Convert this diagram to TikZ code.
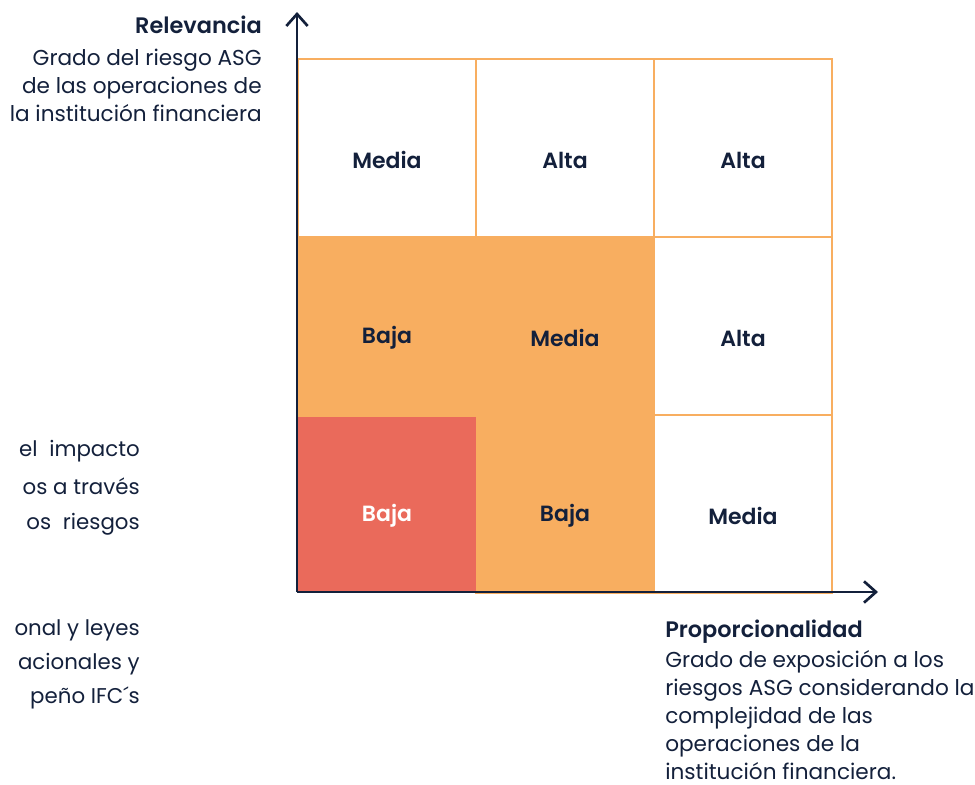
\documentclass[tikz,border=0pt]{standalone}
\usepackage{fontspec}
\setmainfont{Poppins}
\newfontfamily\semib{Poppins SemiBold}
\usetikzlibrary{arrows.meta}
\definecolor{navy}{HTML}{13203B}
\definecolor{orng}{HTML}{F8AE60}
\definecolor{redc}{HTML}{EA6A5B}
\begin{document}
\begin{tikzpicture}[x=0.75pt,y=-0.75pt,
  cell/.style={draw=orng,line width=1.5pt,minimum width=133.5pt,minimum height=133.5pt,inner sep=0pt,anchor=north west},
  wcell/.style={cell,fill=white},
  ocell/.style={cell,fill=orng},
  rcell/.style={cell,fill=redc,draw=none},
  clbl/.style={text=navy,inner sep=0pt,font=\fontsize{16.5}{20}\selectfont\semib},
  axis/.style={draw=navy,line width=2pt,-{Straight Barb[length=9pt,width=16pt,line width=2pt]}},
  lbl/.style={text=navy,inner sep=0pt,align=right,font=\fontsize{16.2}{21}\selectfont},
  side/.style={text=navy,inner sep=0pt,anchor=base east,font=\fontsize{16}{20}\selectfont}]
\useasboundingbox (0,0) rectangle (975,785);
% cells
\node[wcell] (c13) at (297,58) {};
\node[wcell] (c23) at (475,58) {};
\node[wcell] (c33) at (653,58) {};
\node[ocell] (c12) at (297,236) {};
\node[ocell] (c22) at (475,236) {};
\node[wcell] (c32) at (653,236) {};
\node[ocell] (c21) at (475,414) {};
\node[wcell] (c31) at (653,414) {};
\node[rcell] (c11) at (297,414) {};
\draw[orng,line width=1.5pt] (c12.south west) -- (c12.south east);
% cell labels
\node[clbl] (l13) at ([yshift=-9pt]c13.center) {Media};
\node[clbl] (l23) at ([yshift=-9pt]c23.center) {Alta};
\node[clbl] (l33) at ([yshift=-9pt]c33.center) {Alta};
\node[clbl] (l12) at ([yshift=-9pt]c12.center) {Baja};
\node[clbl] (l22) at ([yshift=-9pt]c22.center) {Media};
\node[clbl] (l32) at ([yshift=-9pt]c32.center) {Alta};
\node[clbl,text=white] (l11) at ([yshift=-9pt]c11.center) {Baja};
\node[clbl] (l21) at ([yshift=-9pt]c21.center) {Baja};
\node[clbl] (l31) at ([yshift=-9pt]c31.center) {Media};
% axes
\coordinate (o) at (297,592);
\coordinate (ytip) at (297,12);
\coordinate (xtip) at (878,592);
\draw[axis] (o) -- (ytip);
\draw[axis] (o) -- (xtip);
% axis labels
\node[lbl,anchor=north east] (ylab) at (262,16) {{\semib\fontsize{16.8}{21}\selectfont Relevancia}\\[3pt]Grado del riesgo ASG\\de las operaciones de\\la institución financiera};
\node[lbl,align=left,anchor=north west] (xlab) at (665,620) {{\semib\fontsize{16.8}{21}\selectfont Proporcionalidad}\\[1.5pt]Grado de exposición a los\\riesgos ASG considerando la\\complejidad de las\\operaciones de la\\institución financiera.};
% cut-off side texts
\node[side] (s1) at (140,456) {el\hspace{0.55em}impacto};
\node[side] (s2) at (140,494) {os a través};
\node[side] (s3) at (140,529) {os\hspace{0.55em}riesgos};
\node[side] (s4) at (140,635) {onal y leyes};
\node[side] (s5) at (140,669) {acionales y};
\node[side] (s6) at (140,703) {peño IFC´s};
\end{tikzpicture}
\end{document}
